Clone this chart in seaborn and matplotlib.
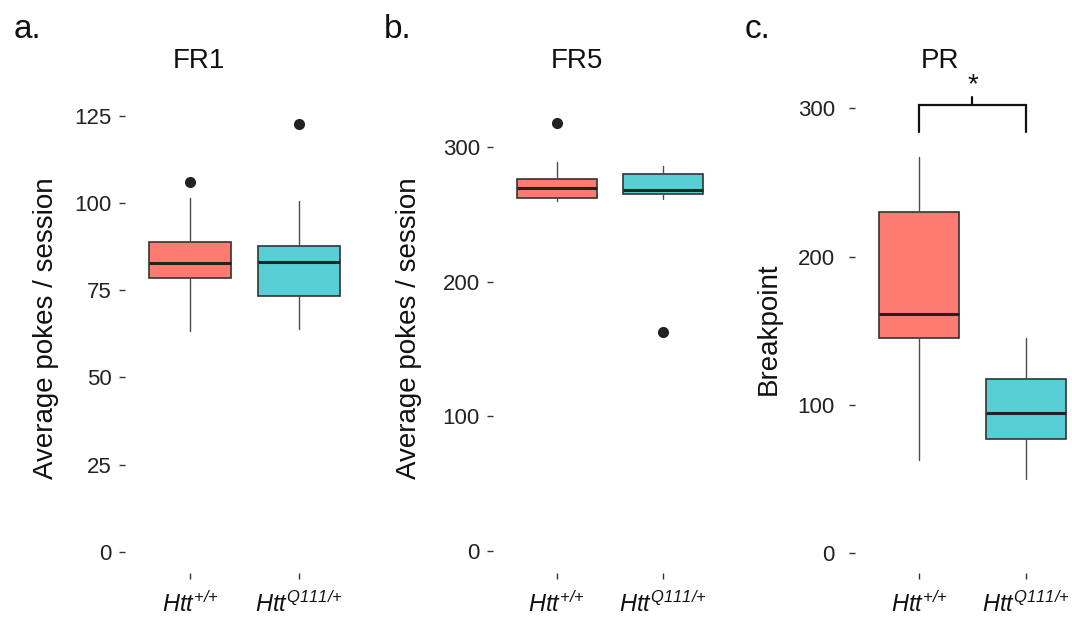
import matplotlib
matplotlib.use('Agg')
import matplotlib.pyplot as plt
import seaborn as sns

# %% data (box summaries per genotype)
genotypes = [r'$\mathit{Htt}^{{+}/{+}}$', r'$\mathit{Htt}^{\mathit{Q111}/{+}}$']
box_colors = ['#FD7B71', '#57CFD4']

fr1_lo = [63.2, 64.0]
fr1_q1 = [78.4, 73.3]
fr1_med = [82.9, 83.2]
fr1_q3 = [88.9, 87.8]
fr1_hi = [101.6, 100.7]
fr1_out = [[106.1], [122.7]]

fr5_lo = [259.6, 261.1]
fr5_q1 = [261.7, 264.6]
fr5_med = [269.3, 268.1]
fr5_q3 = [275.7, 280.1]
fr5_hi = [288.9, 286.0]
fr5_out = [[317.3], [162.9]]

pr_lo = [62.3, 49.8]
pr_q1 = [144.8, 76.9]
pr_med = [161.0, 94.5]
pr_q3 = [230.2, 117.4]
pr_hi = [267.2, 144.8]
pr_out = [[], []]

fr1_ticks = [0, 25, 50, 75, 100, 125]
fr5_ticks = [0, 100, 200, 300]
pr_ticks = [0, 100, 200, 300]

# significance bracket for PR (y values)
bracket_y = 302.3
bracket_leg = 284.3
bracket_top = 307.9
star_y = 315.5

# %% style
sns.set_theme(style='white')
plt.rcParams['font.family'] = ['Liberation Sans', 'DejaVu Sans']
plt.rcParams['mathtext.fontset'] = 'custom'
plt.rcParams['mathtext.rm'] = 'Liberation Sans:italic'
plt.rcParams['mathtext.it'] = 'Liberation Sans:italic'


def make_stats(lo, q1, med, q3, hi, out):
    stats = []
    for i in range(len(med)):
        stats.append({'whislo': lo[i], 'q1': q1[i], 'med': med[i], 'q3': q3[i],
                      'whishi': hi[i], 'fliers': out[i]})
    return stats


def draw_panel(ax, stats, ticks, ylim, ylabel, label_x, ypad=5):
    bp = ax.bxp(stats, positions=[0, 1], widths=0.75, patch_artist=True,
                showcaps=False,
                boxprops=dict(edgecolor='#333333', linewidth=1.2),
                medianprops=dict(color='#222222', linewidth=2.2),
                whiskerprops=dict(color='#4d4d4d', linewidth=1.0),
                flierprops=dict(marker='o', markerfacecolor='#222222',
                                markeredgecolor='#222222', markersize=7))
    for patch, c in zip(bp['boxes'], box_colors):
        patch.set_facecolor(c)
    ax.set_xlim(-0.6, 1.6)
    ax.set_ylim(*ylim)
    ax.set_yticks(ticks)
    ax.set_xticks([0, 1])
    ax.set_xticklabels(genotypes, fontsize=17)
    ax.tick_params(axis='y', length=4.5, width=1, color='#333333',
                   labelsize=16, labelcolor='#222222', pad=ypad, left=True)
    ax.tick_params(axis='x', length=4.5, width=1, color='#333333',
                   labelcolor='#111111', pad=9, bottom=True)
    for s in ax.spines.values():
        s.set_visible(False)
    ax.grid(False)
    ax.set_ylabel(ylabel, fontsize=20, color='#111111')
    ax.yaxis.set_label_coords(label_x, 0.52)


fig = plt.figure(figsize=(10.72, 6.19), dpi=100)
W, H = 1072.0, 619.0


def add_axes_px(left, right, top, bottom):
    return fig.add_axes([left / W, 1 - bottom / H, (right - left) / W, (bottom - top) / H])


ax1 = add_axes_px(124.6, 364.4, 102.7, 573.0)
ax2 = add_axes_px(493.0, 726.6, 101.9, 572.7)
ax3 = add_axes_px(855.0, 1090.0, 102.5, 573.0)

draw_panel(ax1, make_stats(fr1_lo, fr1_q1, fr1_med, fr1_q3, fr1_hi, fr1_out),
           fr1_ticks, (-6.1, 128.8), 'Average pokes / session', -0.273)
draw_panel(ax2, make_stats(fr5_lo, fr5_q1, fr5_med, fr5_q3, fr5_hi, fr5_out),
           fr5_ticks, (-15.9, 333.2), 'Average pokes / session', -0.304)
draw_panel(ax3, make_stats(pr_lo, pr_q1, pr_med, pr_q3, pr_hi, pr_out),
           pr_ticks, (-13.7, 304.0), 'Breakpoint', -0.31, ypad=10)

# significance bracket
ax3.plot([0, 0, 1, 1], [bracket_leg, bracket_y, bracket_y, bracket_leg],
         color='#111111', linewidth=1.6, clip_on=False, solid_joinstyle='miter')
ax3.plot([0.5, 0.5], [bracket_y, bracket_top], color='#111111', linewidth=1.6, clip_on=False)
ax3.text(0.5, star_y, '*', ha='center', va='center', fontsize=20, color='#111111', clip_on=False)

# titles and panel letters
for x, t in [(199, 'FR1'), (577, 'FR5'), (940, 'PR')]:
    fig.text(x / W, 1 - 61 / H, t, ha='center', va='center', fontsize=20, color='#111111')
for x, t in [(14, 'a.'), (384, 'b.'), (745, 'c.')]:
    fig.text(x / W, 1 - 38 / H, t, ha='left', va='baseline', fontsize=24, color='#111111')

fig.savefig('out.png', dpi=100)
